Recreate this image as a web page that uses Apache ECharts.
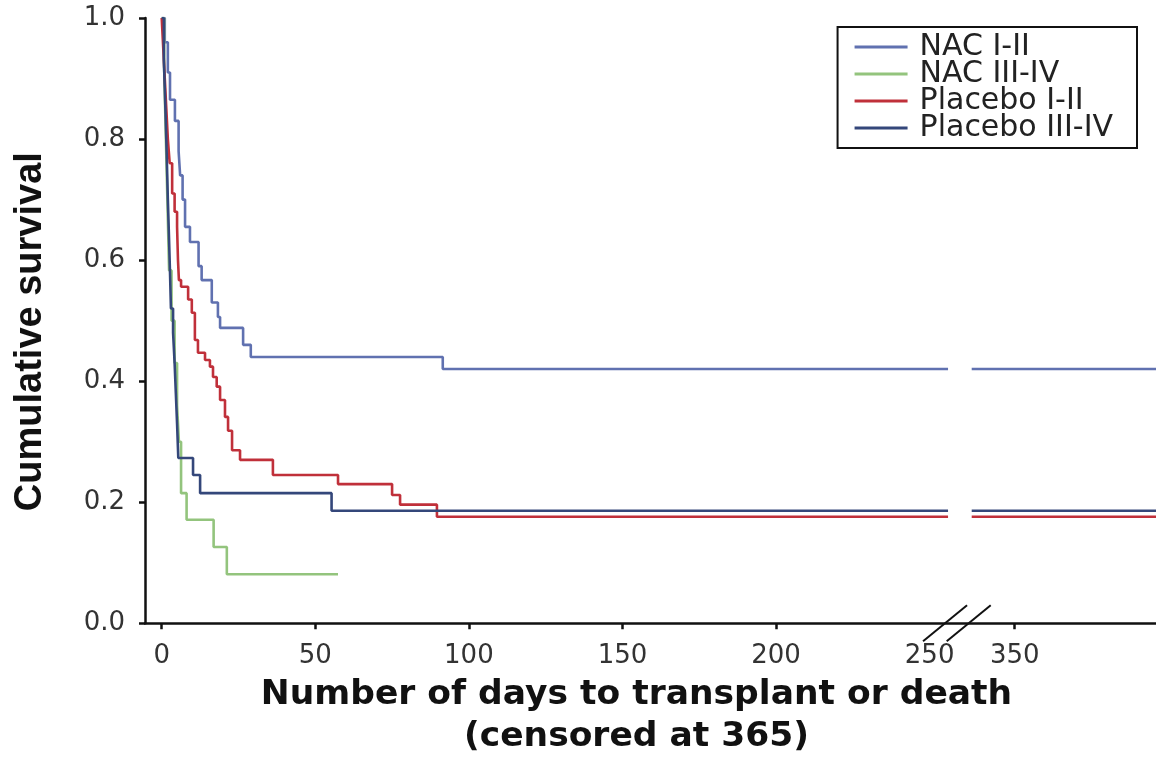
<!DOCTYPE html>
<html><head><meta charset="utf-8">
<script src="https://cdn.jsdelivr.net/npm/echarts@6/dist/echarts.min.js"></script>
<style>html,body{margin:0;padding:0;background:#fff}#c{width:1156px;height:767px}</style>
</head><body><div id="c"></div>
<script>
// ---- data (days, cumulative survival after step) ----
const seriesNames = ['NAC I-II', 'NAC III-IV', 'Placebo I-II', 'Placebo III-IV'];
const seriesColors = ['#6071b0', '#93c47d', '#c0303a', '#34477a'];

const nac12Days = [0, 1, 2, 2.7, 4.3, 5.5, 6, 6.8, 7.6, 9.2, 12, 13, 16.3, 18.3, 19, 26.5, 29, 91.5];
const nac12Surv = [1.0, 0.96, 0.91, 0.865, 0.83, 0.78, 0.74, 0.70, 0.655, 0.63, 0.59, 0.567, 0.53, 0.506, 0.488, 0.46, 0.44, 0.42];
const nac12End = 396;

const nac34Days = [0, 0.8, 1.2, 1.6, 2, 2.4, 3.2, 4.2, 5, 5.6, 6.3, 8.1, 16.9, 21.2];
const nac34Surv = [1.0, 0.917, 0.833, 0.75, 0.667, 0.583, 0.5, 0.43, 0.36, 0.3, 0.215, 0.171, 0.126, 0.081];
const nac34End = 57.4;

const pla12Days = [0, 0.5, 1, 1.5, 2, 2.6, 3.4, 4.2, 5, 5.3, 5.6, 6.3, 8.6, 9.8, 10.8, 11.8, 14.1, 15.7, 16.7, 17.9, 19, 20.6, 21.6, 22.9, 25.5, 36.2, 57.4, 75, 77.6, 89.6];
const pla12Surv = [1.0, 0.95, 0.9, 0.85, 0.8, 0.76, 0.71, 0.68, 0.655, 0.6, 0.567, 0.556, 0.535, 0.513, 0.468, 0.447, 0.435, 0.424, 0.407, 0.391, 0.369, 0.341, 0.318, 0.286, 0.27, 0.245, 0.23, 0.212, 0.196, 0.176];
const pla12End = 396;

const pla34Days = [0, 0.7, 1.2, 1.6, 2, 2.3, 2.7, 3, 3.7, 4.2, 4.6, 5, 5.4, 10.2, 12.5, 55.3];
const pla34Surv = [1.0, 0.93, 0.85, 0.78, 0.7, 0.65, 0.58, 0.52, 0.48, 0.43, 0.38, 0.33, 0.273, 0.245, 0.215, 0.186];
const pla34End = 396;

const xTickValues = [0, 50, 100, 150, 200, 250, 350];
const yTickValues = [0, 0.2, 0.4, 0.6, 0.8, 1.0];

// ---- axis break (250 ... 350) ----
const breakStart = 256, breakEnd = 336, breakGap = 7.7;
const xMinData = -5.44, xMaxData = 396;
function tx(d) { return d <= breakStart ? d : d - (breakEnd - breakStart) + breakGap; }
function untx(v) { return v <= breakStart ? v : v + (breakEnd - breakStart) - breakGap; }

function buildData(days, surv, endDay) {
  const pts = [];
  for (let i = 0; i < days.length; i++) pts.push([tx(days[i]), surv[i]]);
  const last = surv[surv.length - 1];
  if (endDay > breakStart) {
    pts.push([tx(breakStart), last]);
    pts.push([tx(breakStart) + 0.01, '-']);
    pts.push([tx(breakEnd), last]);
    pts.push([tx(endDay), last]);
  } else {
    pts.push([tx(endDay), last]);
  }
  return pts;
}

const allSeries = [
  [nac12Days, nac12Surv, nac12End],
  [nac34Days, nac34Surv, nac34End],
  [pla12Days, pla12Surv, pla12End],
  [pla34Days, pla34Surv, pla34End]
].map((s, i) => ({
  name: seriesNames[i],
  type: 'line',
  step: 'end',
  symbol: 'none',
  connectNulls: false,
  data: buildData(s[0], s[1], s[2]),
  lineStyle: { color: seriesColors[i], width: 2.6 },
  itemStyle: { color: seriesColors[i] },
  animation: false
}));

const chart = echarts.init(document.getElementById('c'), null, { renderer: 'canvas' });
const tickCustom = xTickValues.map(tx);
chart.setOption({
  animation: false,
  backgroundColor: '#ffffff',
  grid: { left: 145, right: 0, top: 18, bottom: 143.7, containLabel: false, outerBoundsMode: 'none' },
  legend: {
    data: seriesNames,
    orient: 'vertical',
    right: 19, top: 27,
    padding: [5, 24, 5, 17],
    itemGap: -3,
    itemWidth: 53, itemHeight: 3,
    icon: 'rect',
    borderColor: '#111', borderWidth: 2,
    backgroundColor: '#fff',
    textStyle: { fontFamily: 'DejaVu Sans', fontSize: 30, color: '#222', lineHeight: 27, padding: [0, 0, 0, 7] }
  },
  xAxis: {
    type: 'value',
    min: xMinData,
    max: tx(xMaxData),
    splitLine: { show: false },
    axisLine: { show: true, onZero: false, lineStyle: { color: '#111', width: 2.5 } },
    axisTick: { show: true, length: 6, inside: false, customValues: tickCustom.filter((v, i) => xTickValues[i] !== 250), lineStyle: { color: '#111', width: 2.5 } },
    axisLabel: {
      customValues: tickCustom,
      formatter: v => String(Math.round(untx(v))),
      fontFamily: 'DejaVu Sans', fontSize: 26, color: '#333', margin: 20
    },
    name: 'Number of days to transplant or death\n(censored at 365)',
    nameLocation: 'middle',
    nameGap: 46,
    nameTextStyle: { fontFamily: 'DejaVu Sans', fontWeight: 'bold', fontSize: 34.5, color: '#111', lineHeight: 42, padding: [0, 28, 0, 0] }
  },
  yAxis: {
    type: 'value',
    min: 0, max: 1, interval: 0.2,
    splitLine: { show: false },
    axisLine: { show: true, onZero: false, lineStyle: { color: '#111', width: 2.5 } },
    axisTick: { show: true, length: 6, lineStyle: { color: '#111', width: 2.5 } },
    axisLabel: { formatter: v => v.toFixed(1), fontFamily: 'DejaVu Sans', fontSize: 26, color: '#333', margin: 20 },
    name: 'Cumulative survival',
    nameLocation: 'middle',
    nameGap: 95,
    nameTextStyle: { fontFamily: 'Liberation Sans', fontWeight: 'bold', fontSize: 38, color: '#111', padding: [0, 22, 0, 0] }
  },
  series: allSeries
});

// break marks on the x axis (two slashes)
const yAxisPx = chart.convertToPixel({ yAxisIndex: 0 }, 0);
const bx1 = chart.convertToPixel({ xAxisIndex: 0 }, tx(breakStart)) - 3;
const bx2 = chart.convertToPixel({ xAxisIndex: 0 }, tx(breakEnd)) - 3;
function slash(cx) {
  return { type: 'line', shape: { x1: cx - 22, y1: yAxisPx + 18, x2: cx + 22, y2: yAxisPx - 18 }, style: { stroke: '#111', lineWidth: 2 }, z: 100 };
}
chart.setOption({ graphic: [slash(bx1), slash(bx2)] });
</script>
</body></html>
